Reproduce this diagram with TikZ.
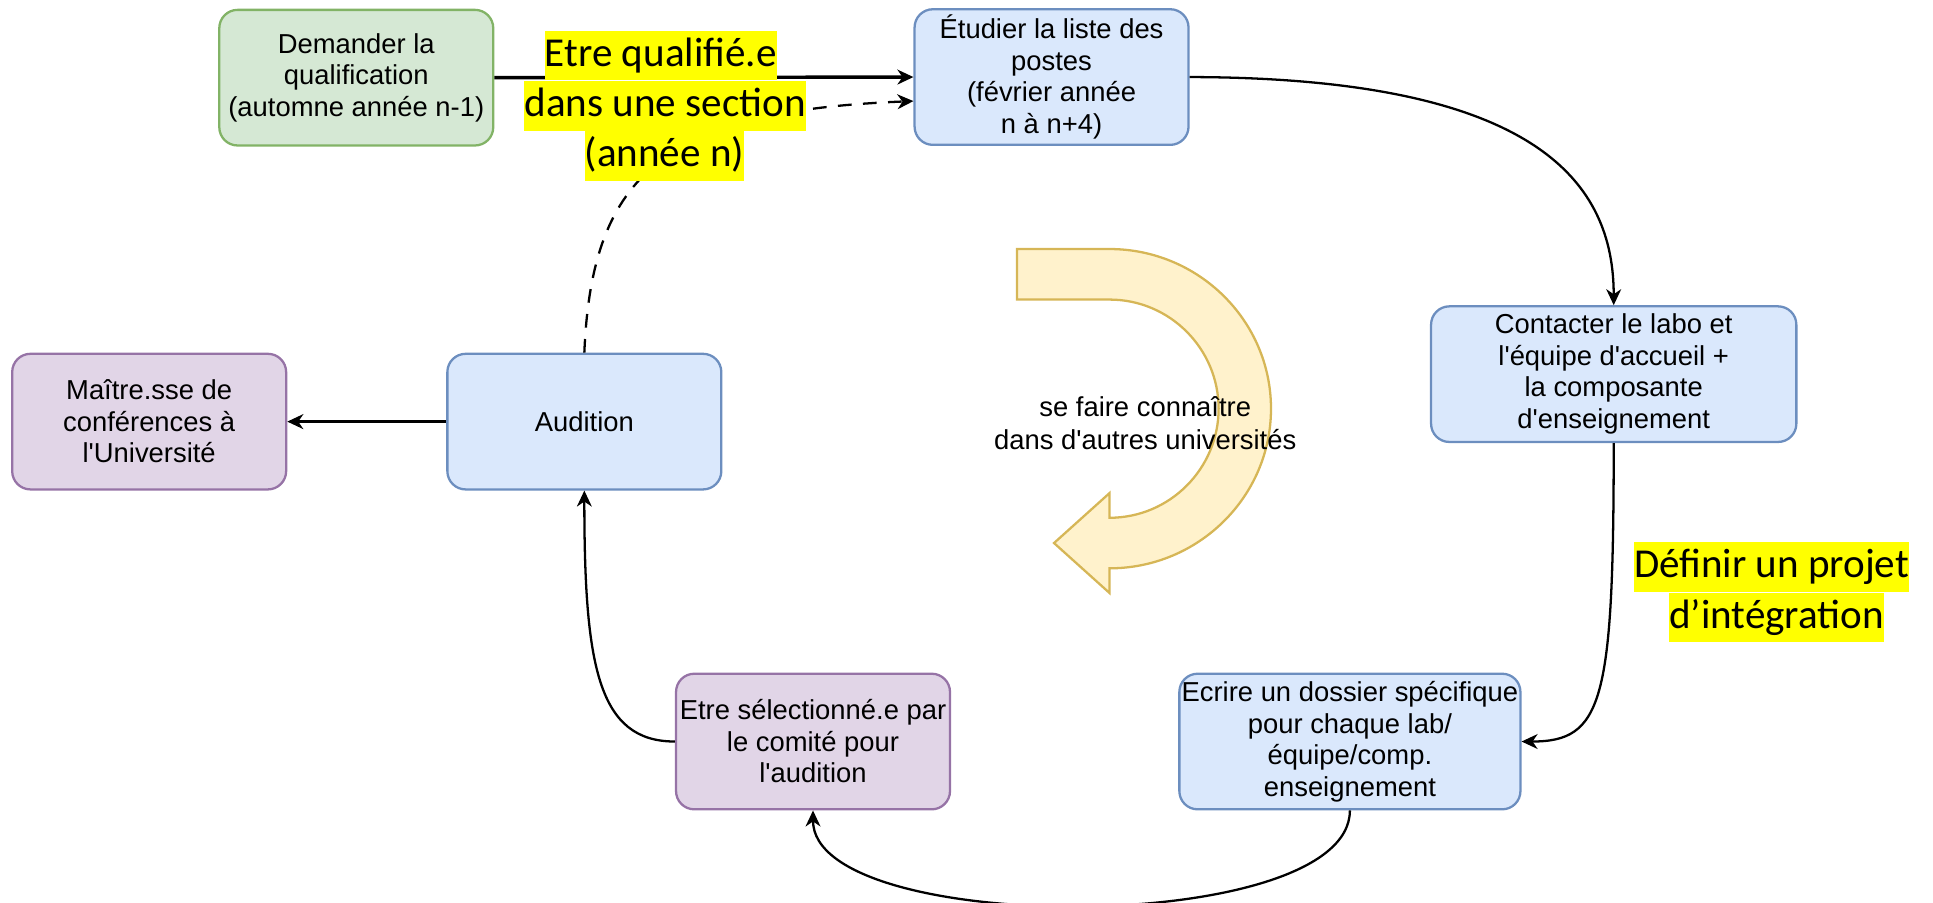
\documentclass[tikz,border=0pt]{standalone}
\usepackage{fontspec}
\setmainfont{Liberation Sans}[Ligatures=TeXOff]
\newfontfamily\calib{Carlito}
\usetikzlibrary{arrows.meta,calc}
\definecolor{bluef}{HTML}{DAE8FC}
\definecolor{blued}{HTML}{6C8EBF}
\definecolor{greenf}{HTML}{D5E8D4}
\definecolor{greend}{HTML}{82B366}
\definecolor{purplef}{HTML}{E1D5E7}
\definecolor{purpled}{HTML}{9673A6}
\definecolor{arrowf}{HTML}{FFF2CC}
\definecolor{arrowd}{HTML}{D6B656}
\definecolor{hlyellow}{HTML}{FFFF00}
\tikzset{
  box/.style={rounded corners=8pt, line width=1pt, minimum width=120pt, minimum height=59.4pt,
    align=center, inner xsep=1pt, inner ysep=2pt, font=\fontsize{12pt}{13.8pt}\selectfont},
  bluebox/.style={box, fill=bluef, draw=blued},
  greenbox/.style={box, fill=greenf, draw=greend},
  purplebox/.style={box, fill=purplef, draw=purpled},
  hl/.style={fill=hlyellow, inner xsep=0pt, inner ysep=0pt, text height=15.5pt, text depth=6.1pt,
    font=\calib\fontsize{18pt}{21.6pt}\selectfont},
  conn/.style={line width=1pt, -{Stealth[length=7pt,width=6.5pt,inset=2.2pt]}},
  plain/.style={align=center, font=\fontsize{12pt}{14.6pt}\selectfont}
}
\begin{document}
\begin{tikzpicture}[x=0.54pt,y=-0.54pt]
\useasboundingbox (0,0) rectangle (1568,732);

% big curved arrow
\path[fill=arrowf, draw=arrowd, line width=1pt]
  (825,202) -- (900,202) .. controls (972,202) and (1031,260) .. (1031,331.5)
  .. controls (1031,403) and (972,461) .. (900,461) -- (900,481) -- (855,440.5)
  -- (900,400) -- (900,420) .. controls (949,420) and (988.5,380) .. (988.5,331.5)
  .. controls (988.5,283) and (949,243) .. (900,243) -- (825,243) -- cycle;
\node[plain] (txt) at (929,343) {se faire connaître\\dans d'autres universités};

% boxes
\node[greenbox] (dem) at (289,63) {Demander la\\qualification\\(automne année n-1)};
\node[bluebox] (etu) at (853,62.5) {Étudier la liste des\\postes\\(février année\\n à n+4)};
\node[bluebox, minimum width=160pt] (con) at (1309,303.5) {Contacter le labo et\\l'équipe d'accueil +\\la composante\\d'enseignement};
\node[bluebox, minimum width=149pt] (ecr) at (1095,601.5) {Ecrire un dossier spécifique\\pour chaque lab/\\équipe/comp.\\enseignement};
\node[purplebox] (sel) at (659.5,601.5) {Etre sélectionné.e par\\le comité pour\\l'audition};
\node[bluebox] (aud) at (474,342) {Audition};
\node[purplebox] (mai) at (121,342) {Maître.sse de\\conférences à\\l'Université};

% connectors
\draw[conn, line width=1.5pt] (dem.east) -- (etu.west);
\draw[conn, dash pattern=on 6pt off 5pt] (aud.north) .. controls (480,140) and (540,90) .. ($(etu.west)+(0,19.5)$);
\draw[conn] (etu.east) .. controls (1250,63) and (1309,150) .. (con.north);
\draw[conn] (con.south) .. controls (1309,570) and (1300,601.5) .. (ecr.east);
\draw[conn] (ecr.south) .. controls (1095,760) and (659.5,760) .. (sel.south);
\draw[conn] (sel.west) .. controls (485,601.5) and (474,540) .. (aud.south);
\draw[conn, line width=1.5pt] (aud.west) -- (mai.east);

% highlighted labels
\node[hl] (q1) at (536,45) {Etre qualifié.e};
\node[hl] (q2) at (539.5,86) {dans une section};
\node[hl] (q3) at (539,126.5) {(année n)};
\node[hl] (d1) at (1437,460) {Définir un projet};
\node[hl] (d2) at (1441,501) {d’intégration};
\end{tikzpicture}
\end{document}
